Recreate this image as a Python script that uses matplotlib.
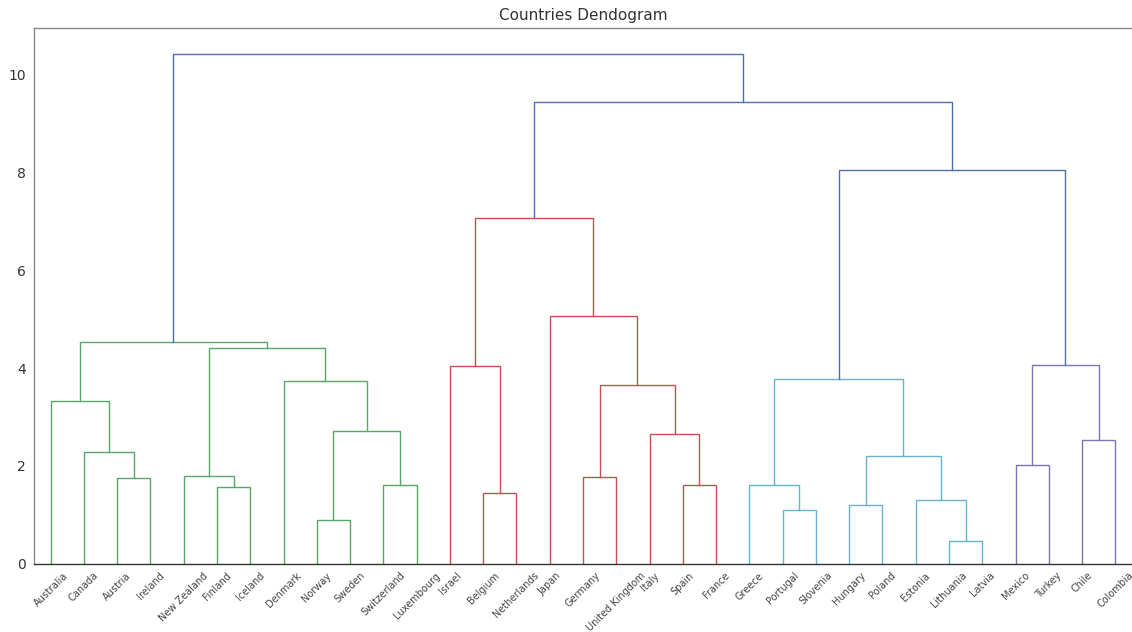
import matplotlib
matplotlib.use("Agg")
import matplotlib.pyplot as plt

# ---- data ----
leaf_labels = ["Australia", "Canada", "Austria", "Ireland", "New Zealand", "Finland",
               "Iceland", "Denmark", "Norway", "Sweden", "Switzerland", "Luxembourg",
               "Israel", "Belgium", "Netherlands", "Japan", "Germany", "United Kingdom",
               "Italy", "Spain", "France", "Greece", "Portugal", "Slovenia", "Hungary",
               "Poland", "Estonia", "Lithuania", "Latvia", "Mexico", "Turkey", "Chile",
               "Colombia"]

# merges: (left child, right child); ids 0..32 are leaves, new clusters get ids from 33 on
merge_left = [27, 8, 22, 24, 26, 13, 5, 10, 19, 21, 2, 16, 4, 29, 36, 1,
              31, 18, 34, 0, 44, 7, 42, 12, 46, 45, 52, 15, 56, 55, 61, 59]
merge_right = [28, 9, 23, 25, 33, 14, 6, 11, 20, 35, 3, 17, 39, 30, 37, 43,
               32, 41, 40, 48, 50, 51, 47, 38, 49, 54, 58, 53, 60, 57, 62, 63]
merge_height = [0.47, 0.90, 1.09, 1.19, 1.31, 1.45, 1.56, 1.60, 1.60, 1.60, 1.76, 1.78,
                1.80, 2.02, 2.20, 2.29, 2.52, 2.66, 2.71, 3.32, 3.65, 3.74, 3.77, 4.04,
                4.06, 4.42, 4.54, 5.07, 7.08, 8.05, 9.45, 10.44]

# ---- style ----
palette = ["#55A868", "#C44E52", "#64B5CD", "#8172B2", "#CCB974", "#333333"]
above_color = "#4C72B0"

n = len(leaf_labels)
root = n + len(merge_height) - 1
threshold = 0.7 * max(merge_height)

fig = plt.figure(figsize=(11.32, 6.32), dpi=100)
ax = fig.add_axes([34 / 1132, 68.5 / 632, 1 - 34 / 1132, (563.5 - 28) / 632])

color_idx = [0]


def draw(node, color=None):
    """Return (x, height) of node, drawing its links."""
    if node < n:
        return 5 + 10 * node, 0.0
    k = node - n
    h = merge_height[k]
    if h < threshold and color is None:
        color = palette[color_idx[0] % len(palette)]
        color_idx[0] += 1
    c = color if h < threshold else above_color
    xl, hl = draw(merge_left[k], color if h < threshold else None)
    xr, hr = draw(merge_right[k], color if h < threshold else None)
    ax.plot([xl, xl, xr, xr], [hl, h, h, hr], color=c, lw=1.0, solid_joinstyle="miter")
    return (xl + xr) / 2, h


draw(root)

ax.set_xlim(0, 10 * n)
ax.set_ylim(0, max(merge_height) * 1.05)
ax.set_xticks([5 + 10 * i for i in range(n)])
ax.set_xticklabels(leaf_labels, rotation=45, fontsize=7, color="#444444")
ax.set_yticks([0, 2, 4, 6, 8, 10])
ax.tick_params(axis="y", length=0, pad=6, labelsize=10, labelcolor="#333333")
ax.tick_params(axis="x", length=0, pad=5)

for s in ["left", "top"]:
    ax.spines[s].set_color("#888888")
    ax.spines[s].set_linewidth(1.0)
ax.spines["bottom"].set_color("#333333")
ax.spines["bottom"].set_linewidth(1.0)
ax.spines["right"].set_visible(False)

ax.set_title("Countries Dendogram", fontsize=11, color="#333333", pad=6)

fig.savefig("out.png", dpi=100)
